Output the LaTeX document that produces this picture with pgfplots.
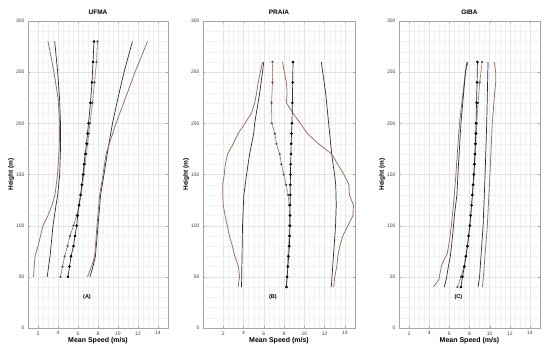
\documentclass[border=0pt]{standalone}
\usepackage{pgfplots}
\pgfplotsset{compat=1.18}
\usepackage{fontspec}
\setmainfont{Liberation Sans}
\definecolor{dk}{RGB}{45,45,55}
\definecolor{br}{RGB}{158,114,96}
\definecolor{or}{RGB}{150,105,85}
\pgfplotsset{
  panel/.style={
    scale only axis, anchor=south west, height=307pt,
    xmax=15, ymin=0, ymax=300,
    xtick={2,4,...,14}, ytick={0,50,...,300},
    minor x tick num=3, minor y tick num=4,
    grid=both,
    major grid style={gray!22, line width=0.3pt},
    minor grid style={gray!10, line width=0.25pt},
    axis line style={gray!70, line width=0.4pt},
    tick align=inside, major tick length=2pt, minor tick length=0pt,
    tick style={gray!70},
    tick label style={font=\fontsize{5}{6}\selectfont, text=black!75},
    /pgf/number format/assume math mode=true,
    title style={font=\bfseries\fontsize{6.5}{7}\selectfont, yshift=-3.5pt},
    xlabel style={font=\bfseries\fontsize{7}{8}\selectfont, yshift=5pt},
    ylabel style={font=\bfseries\fontsize{6.5}{7}\selectfont, yshift=-5pt},
    xlabel={Mean Speed (m/s)}, ylabel={Height (m)},
    clip=false,
  },
  bnd/.style={dk, line width=0.7pt, no marks},
  obs/.style={br, line width=0.8pt, no marks},
  cdk/.style={dk, line width=0.7pt, mark=*, mark size=0.9pt, mark options={fill=black, draw=black}},
  cor/.style={or, line width=0.8pt, dash pattern=on 0.8pt off 0.5pt, mark=*, mark size=0.65pt, mark options={solid, fill=or!70!black, draw=or!70!black}},
}
\begin{document}
\begin{tikzpicture}
\useasboundingbox (0,0) rectangle (550pt,348pt);
% ---------- A ----------
\begin{axis}[panel, at={(28pt,20pt)}, width=140pt, xmin=1, title={UFMA}]
\addplot[obs] coordinates {(1.55,50)(1.62,60)(1.7,70)(2.0,80)(2.5,100)(3.0,110)(3.4,120)(3.7,130)(3.95,150)(4.12,175)(4.17,200)(4.0,225)(3.6,250)(3.0,280)};
\addplot[bnd] coordinates {(2.92,50)(3.2,70)(3.5,100)(3.8,120)(3.97,130)(4.17,150)(4.25,175)(4.25,200)(4.15,225)(3.97,250)(3.67,280)};
\addplot[bnd] coordinates {(7.2,50)(7.5,60)(7.74,70)(8.0,100)(8.26,130)(8.6,150)(9.0,175)(9.45,200)(10.0,225)(10.6,250)(11.44,280)};
\addplot[obs] coordinates {(6.95,50)(7.35,60)(7.67,70)(7.9,100)(8.17,130)(8.5,150)(8.8,170)(9.8,200)(10.95,230)(11.7,250)(12.95,280)};
\addplot[cor] coordinates {(4.25,50)(4.45,60)(4.66,70)(4.95,80)(5.2,90)(5.55,100)(5.87,110)(6.12,120)(6.3,130)(6.45,140)(6.58,150)(6.7,160)(6.85,170)(6.95,180)(7.08,190)(7.2,200)(7.45,220)(7.65,240)(7.85,260)(7.95,280)};
\addplot[cdk] coordinates {(5.0,50)(5.15,60)(5.3,70)(5.55,80)(5.7,90)(5.87,100)(5.97,110)(6.1,120)(6.25,130)(6.38,140)(6.5,150)(6.6,160)(6.72,170)(6.85,180)(6.95,190)(7.05,200)(7.25,220)(7.4,240)(7.5,260)(7.6,280)};
\node[font=\bfseries\fontsize{5.5}{6}\selectfont] at (axis cs:6.9,30) {(A)};
\end{axis}
% ---------- B ----------
\begin{axis}[panel, at={(203pt,20pt)}, width=152pt, xmin=0, title={PRAIA}]
\addplot[obs] coordinates {(3.47,40)(3.6,50)(3.5,60)(3.15,70)(2.9,80)(2.6,90)(2.4,100)(2.17,110)(2.0,120)(1.94,130)(1.94,140)(2.1,150)(2.2,160)(2.43,170)(2.98,180)(3.47,190)(4.13,200)(4.79,210)(5.1,220)(5.3,230)(5.44,240)(5.87,260)};
\addplot[bnd] coordinates {(3.8,40)(3.85,70)(3.9,100)(4.03,130)(4.3,150)(4.6,170)(5.0,190)(5.1,200)(5.6,230)(6.0,260)};
\addplot[bnd] coordinates {(12.66,40)(12.8,60)(13.08,100)(13.15,120)(13.1,140)(12.98,150)(12.7,170)(12.4,200)(12.1,230)(11.67,260)};
\addplot[obs] coordinates {(12.9,40)(13.0,50)(13.2,60)(13.3,70)(13.5,80)(13.8,90)(14.3,100)(14.8,110)(14.85,120)(14.45,130)(14.4,140)(13.9,150)(13.3,160)(12.7,170)(11.4,180)(10.3,190)(9.6,200)(8.88,210)(8.23,220)(8.3,230)(8.23,240)(7.84,260)};
\addplot[cor] coordinates {(8.25,40)(8.3,50)(8.35,60)(8.38,70)(8.45,80)(8.5,90)(8.52,100)(8.55,110)(8.5,120)(8.4,130)(8.2,140)(7.97,150)(7.74,160)(7.57,170)(7.25,180)(7.08,190)(6.79,200)(6.76,220)(6.86,240)(6.86,260)};
\addplot[cdk] coordinates {(8.23,40)(8.3,50)(8.38,60)(8.45,70)(8.52,80)(8.56,90)(8.58,100)(8.6,110)(8.6,120)(8.62,130)(8.62,140)(8.63,150)(8.65,160)(8.68,170)(8.7,180)(8.74,190)(8.78,200)(8.82,220)(8.85,240)(8.88,260)};
\node[font=\bfseries\fontsize{5.5}{6}\selectfont] at (axis cs:6.9,30) {(B)};
\end{axis}
% ---------- C ----------
\begin{axis}[panel, at={(399pt,20pt)}, width=141pt, xmin=1, title={GIBA}]
\addplot[obs] coordinates {(4.4,40)(4.95,47)(5.1,55)(5.25,62)(5.8,73)(6.0,85)(6.2,100)(6.45,125)(6.65,150)(7.0,200)(7.6,250)(7.85,260)};
\addplot[bnd] coordinates {(5.5,40)(5.68,47)(5.9,60)(6.1,70)(6.35,93)(6.5,110)(6.75,130)(6.85,150)(7.15,200)(7.6,250)(7.75,260)};
\addplot[bnd] coordinates {(8.85,40)(9.0,50)(9.35,100)(9.55,150)(9.71,200)(9.84,260)};
\addplot[obs] coordinates {(9.28,40)(9.38,50)(9.77,100)(10.03,150)(10.26,200)(10.5,230)(10.6,240)(10.6,250)(10.45,260)};
\addplot[cor] coordinates {(6.8,40)(7.15,50)(7.45,60)(7.62,70)(7.78,80)(7.9,90)(8.02,100)(8.12,110)(8.22,120)(8.3,130)(8.38,140)(8.46,150)(8.53,160)(8.58,170)(8.63,180)(8.68,190)(8.72,200)(8.85,220)(9.02,240)(9.25,260)};
\addplot[cdk] coordinates {(7.15,40)(7.3,50)(7.5,60)(7.65,70)(7.8,80)(7.92,90)(8.04,100)(8.12,110)(8.2,120)(8.28,130)(8.35,140)(8.42,150)(8.48,160)(8.53,170)(8.58,180)(8.62,190)(8.65,200)(8.7,220)(8.75,240)(8.79,260)};
\node[font=\bfseries\fontsize{5.5}{6}\selectfont] at (axis cs:6.9,30) {(C)};
\end{axis}
\end{tikzpicture}
\end{document}
